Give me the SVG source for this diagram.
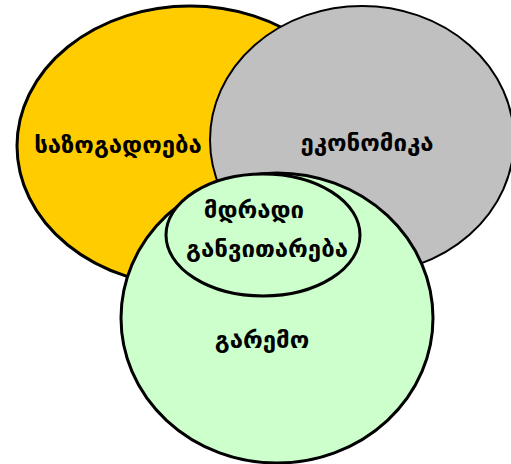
<svg xmlns="http://www.w3.org/2000/svg" width="511" height="464" viewBox="0 0 511 464">
<style>
.lbl{font-family:"DejaVu Sans","Noto Sans",sans-serif;font-weight:bold;font-size:24px;fill:#000;text-anchor:middle}
.sh{stroke:#000}
</style>
<rect width="511" height="464" fill="#fff"/>
<g id="society"><ellipse class="sh" cx="190" cy="146" rx="173" ry="140" fill="#FFCC00" stroke-width="3"/><text class="lbl" x="118" y="153">საზოგადოება</text></g>
<g id="economy"><ellipse class="sh" cx="362" cy="140" rx="152" ry="134" fill="#C0C0C0" stroke-width="2"/><text class="lbl" x="367" y="151">ეკონომიკა</text></g>
<g id="environment"><ellipse class="sh" cx="277" cy="318" rx="156" ry="145" fill="#CCFFCC" stroke-width="3"/><text class="lbl" x="262" y="348">გარემო</text></g>
<g id="sustainable"><ellipse class="sh" cx="263" cy="235" rx="97" ry="61" fill="#CCFFCC" stroke-width="3"/><text class="lbl" x="254" y="218">მდრადი</text><text class="lbl" x="267" y="257">განვითარება</text></g>
<g id="connectors"></g>
</svg>
